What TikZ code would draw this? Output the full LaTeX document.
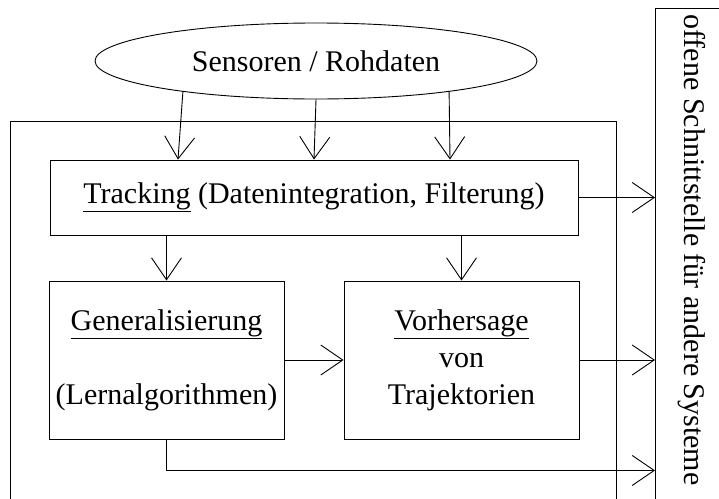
\documentclass[tikz,border=0pt]{standalone}
\usepackage{fontspec}
\setmainfont{Liberation Serif}
\usetikzlibrary{shapes.geometric,arrows.meta}

\begin{document}
\begin{tikzpicture}[
    x=1pt, y=-1pt, line width=0.9pt,
    every node/.style={font=\fontsize{30}{37}\selectfont},
    box/.style={draw, inner sep=0pt, align=center},
    arr/.style={-{Straight Barb[length=22pt,width=30pt]}}
]
\useasboundingbox (0,0) rectangle (719,498);
% frames, open to the bottom
\node[draw, minimum width=606pt, minimum height=420pt, anchor=north west] (frame) at (10,121) {};
\node[draw, minimum width=90pt, minimum height=520pt, anchor=north west] (iface) at (655,8) {};
\node[rotate=-90] (ifacetxt) at (692,250) {offene Schnittstelle für andere Systeme};

\node[ellipse, draw, inner sep=0pt, minimum width=442pt, minimum height=76pt] (sensors) at (316,61) {Sensoren / Rohdaten};
\node[box, minimum width=528pt, minimum height=75pt] (tracking) at (314,197.5)
    {\underline{Tracking} (Datenintegration, Filterung)};
\node[box, minimum width=235pt, minimum height=158pt] (general) at (166.5,360)
    {\underline{Generalisierung}\\[37pt](Lernalgorithmen)};
\node[box, minimum width=235pt, minimum height=158pt] (forecast) at (461.5,360)
    {\underline{Vorhersage}\\von\\Trajektorien};

\draw[arr] (sensors.193) -- ([xshift=-136pt]tracking.north);
\draw[arr] (sensors.south) -- (tracking.north);
\draw[arr] (sensors.347) -- ([xshift=136pt]tracking.north);
\draw[arr] (tracking.south -| general.north) -- (general.north);
\draw[arr] (tracking.south -| forecast.north) -- (forecast.north);
\draw[arr] (general.east) -- (forecast.west);
\draw[arr] (tracking.east) -- (tracking.east -| iface.west);
\draw[arr] (forecast.east) -- (forecast.east -| iface.west);
\draw[arr] (general.south) |- ([yshift=-31pt]general.south -| iface.west);
\end{tikzpicture}
\end{document}
